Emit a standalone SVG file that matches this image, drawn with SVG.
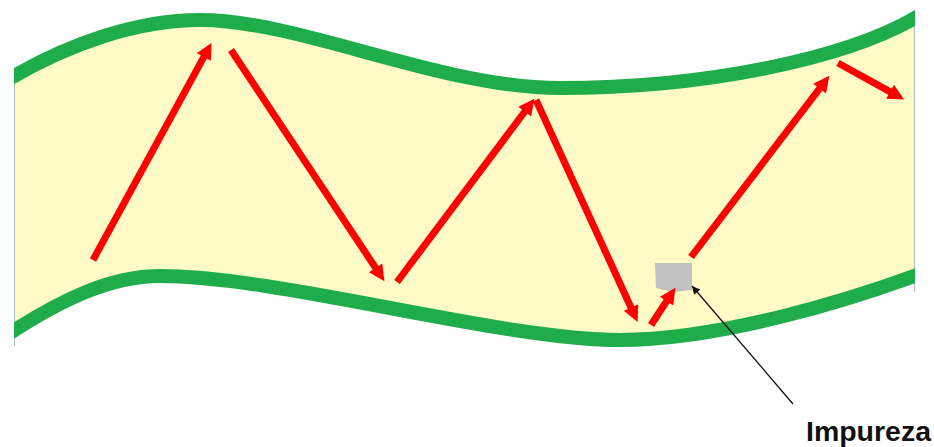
<svg xmlns="http://www.w3.org/2000/svg" width="934" height="447" viewBox="0 0 934 447">
<style>
.band{fill:none;stroke:#1fad4b;stroke-width:14}
.edge{fill:none;stroke:#8fa9c4;stroke-width:1.5}
.ray{fill:none;stroke:#ff0000;stroke-width:7}
.lbl{font-family:"Liberation Sans",Arial,sans-serif;font-weight:bold;font-size:27px;fill:#111}
</style>
<defs>
<clipPath id="clip"><rect x="14" y="0" width="901" height="447"/></clipPath>
<marker id="rh" viewBox="0 0 10 10" refX="5" refY="5" markerWidth="18" markerHeight="16" markerUnits="userSpaceOnUse" orient="auto"><path d="M0,0 L10,5 L0,10 z" fill="#ff0000"/></marker>
<marker id="bh" viewBox="0 0 10 10" refX="10" refY="5" markerWidth="10" markerHeight="8" markerUnits="userSpaceOnUse" orient="auto"><path d="M0,0 L10,5 L0,10 z" fill="#111"/></marker>
</defs>
<g id="channel" clip-path="url(#clip)">
<path d="M14,76 C70,42 140,20 200,20 C300,20 440,88 560,88 C700,88 850,60 915,18 L915,278 C850,300 720,340 620,340 C500,340 280,276 160,276 C110,276 60,300 14,330 Z" fill="#fffac6" stroke="none"/>
<path class="edge" d="M14,76 L14,346"/>
<path class="edge" d="M915,10 L915,292"/>
<path class="band" d="M4,82 C70,42 140,20 200,20 C300,20 440,88 560,88 C700,88 850,60 925,12"/>
<path class="band" d="M4,337 C60,300 110,276 160,276 C280,276 500,340 620,340 C720,340 850,300 925,272"/>
</g>
<g id="impureza">
<path d="M655,263 L692,263 L692,290 L672,292 L656,288 Z" fill="#c0c0c0"/>
</g>
<g id="connectors">
<path class="ray" d="M93,260 L207.7,49.9" marker-end="url(#rh)"/>
<path class="ray" d="M231,50 L380,274.5" marker-end="url(#rh)"/>
<path class="ray" d="M397,282 L529.6,105.2" marker-end="url(#rh)"/>
<path class="ray" d="M536,100 L634.3,314.8" marker-end="url(#rh)"/>
<path class="ray" d="M651,325 L671,294.5" marker-end="url(#rh)"/>
<path class="ray" d="M691,257 L824.5,82.2" marker-end="url(#rh)"/>
<path class="ray" d="M838,63 L897.1,95.6" marker-end="url(#rh)"/>
<path d="M793,404 L692,286" stroke="#111" stroke-width="1.3" fill="none" marker-end="url(#bh)"/>
</g>
<g id="label">
<text class="lbl" x="806" y="441" textLength="125" lengthAdjust="spacingAndGlyphs">Impureza</text>
</g>
</svg>
